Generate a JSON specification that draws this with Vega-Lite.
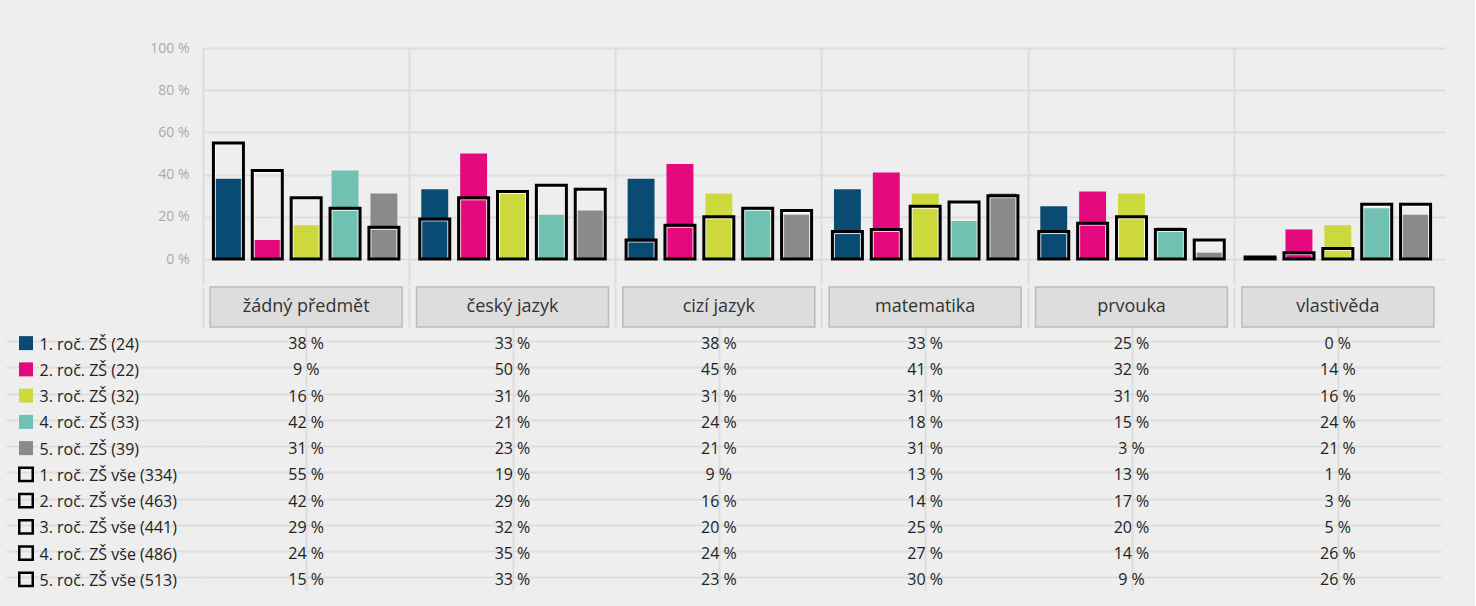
{
  "$schema": "https://vega.github.io/schema/vega-lite/v6.json",
  "background": "#eeeeee",
  "padding": {"left": 6, "top": 41, "right": 30, "bottom": 16},
  "spacing": 0,
  "columns": 2,
  "align": "each",
  "config": {
    "font": "Open Sans",
    "view": {"stroke": null},
    "locale": {"number": {"decimal": ",", "thousands": " ", "grouping": [3], "currency": ["", " Kč"], "percent": " %"}},
    "axis": {"domain": false, "title": null}
  },
  "datasets": {
    "d": [
      {"subject": "žádný předmět", "grade": "1. roč. ZŠ", "kind": "sample", "series": "1. roč. ZŠ (24)", "value": 0.38},
      {"subject": "žádný předmět", "grade": "2. roč. ZŠ", "kind": "sample", "series": "2. roč. ZŠ (22)", "value": 0.09},
      {"subject": "žádný předmět", "grade": "3. roč. ZŠ", "kind": "sample", "series": "3. roč. ZŠ (32)", "value": 0.16},
      {"subject": "žádný předmět", "grade": "4. roč. ZŠ", "kind": "sample", "series": "4. roč. ZŠ (33)", "value": 0.42},
      {"subject": "žádný předmět", "grade": "5. roč. ZŠ", "kind": "sample", "series": "5. roč. ZŠ (39)", "value": 0.31},
      {"subject": "žádný předmět", "grade": "1. roč. ZŠ", "kind": "all", "series": "1. roč. ZŠ vše (334)", "value": 0.55},
      {"subject": "žádný předmět", "grade": "2. roč. ZŠ", "kind": "all", "series": "2. roč. ZŠ vše (463)", "value": 0.42},
      {"subject": "žádný předmět", "grade": "3. roč. ZŠ", "kind": "all", "series": "3. roč. ZŠ vše (441)", "value": 0.29},
      {"subject": "žádný předmět", "grade": "4. roč. ZŠ", "kind": "all", "series": "4. roč. ZŠ vše (486)", "value": 0.24},
      {"subject": "žádný předmět", "grade": "5. roč. ZŠ", "kind": "all", "series": "5. roč. ZŠ vše (513)", "value": 0.15},

      {"subject": "český jazyk", "grade": "1. roč. ZŠ", "kind": "sample", "series": "1. roč. ZŠ (24)", "value": 0.33},
      {"subject": "český jazyk", "grade": "2. roč. ZŠ", "kind": "sample", "series": "2. roč. ZŠ (22)", "value": 0.50},
      {"subject": "český jazyk", "grade": "3. roč. ZŠ", "kind": "sample", "series": "3. roč. ZŠ (32)", "value": 0.31},
      {"subject": "český jazyk", "grade": "4. roč. ZŠ", "kind": "sample", "series": "4. roč. ZŠ (33)", "value": 0.21},
      {"subject": "český jazyk", "grade": "5. roč. ZŠ", "kind": "sample", "series": "5. roč. ZŠ (39)", "value": 0.23},
      {"subject": "český jazyk", "grade": "1. roč. ZŠ", "kind": "all", "series": "1. roč. ZŠ vše (334)", "value": 0.19},
      {"subject": "český jazyk", "grade": "2. roč. ZŠ", "kind": "all", "series": "2. roč. ZŠ vše (463)", "value": 0.29},
      {"subject": "český jazyk", "grade": "3. roč. ZŠ", "kind": "all", "series": "3. roč. ZŠ vše (441)", "value": 0.32},
      {"subject": "český jazyk", "grade": "4. roč. ZŠ", "kind": "all", "series": "4. roč. ZŠ vše (486)", "value": 0.35},
      {"subject": "český jazyk", "grade": "5. roč. ZŠ", "kind": "all", "series": "5. roč. ZŠ vše (513)", "value": 0.33},

      {"subject": "cizí jazyk", "grade": "1. roč. ZŠ", "kind": "sample", "series": "1. roč. ZŠ (24)", "value": 0.38},
      {"subject": "cizí jazyk", "grade": "2. roč. ZŠ", "kind": "sample", "series": "2. roč. ZŠ (22)", "value": 0.45},
      {"subject": "cizí jazyk", "grade": "3. roč. ZŠ", "kind": "sample", "series": "3. roč. ZŠ (32)", "value": 0.31},
      {"subject": "cizí jazyk", "grade": "4. roč. ZŠ", "kind": "sample", "series": "4. roč. ZŠ (33)", "value": 0.24},
      {"subject": "cizí jazyk", "grade": "5. roč. ZŠ", "kind": "sample", "series": "5. roč. ZŠ (39)", "value": 0.21},
      {"subject": "cizí jazyk", "grade": "1. roč. ZŠ", "kind": "all", "series": "1. roč. ZŠ vše (334)", "value": 0.09},
      {"subject": "cizí jazyk", "grade": "2. roč. ZŠ", "kind": "all", "series": "2. roč. ZŠ vše (463)", "value": 0.16},
      {"subject": "cizí jazyk", "grade": "3. roč. ZŠ", "kind": "all", "series": "3. roč. ZŠ vše (441)", "value": 0.20},
      {"subject": "cizí jazyk", "grade": "4. roč. ZŠ", "kind": "all", "series": "4. roč. ZŠ vše (486)", "value": 0.24},
      {"subject": "cizí jazyk", "grade": "5. roč. ZŠ", "kind": "all", "series": "5. roč. ZŠ vše (513)", "value": 0.23},

      {"subject": "matematika", "grade": "1. roč. ZŠ", "kind": "sample", "series": "1. roč. ZŠ (24)", "value": 0.33},
      {"subject": "matematika", "grade": "2. roč. ZŠ", "kind": "sample", "series": "2. roč. ZŠ (22)", "value": 0.41},
      {"subject": "matematika", "grade": "3. roč. ZŠ", "kind": "sample", "series": "3. roč. ZŠ (32)", "value": 0.31},
      {"subject": "matematika", "grade": "4. roč. ZŠ", "kind": "sample", "series": "4. roč. ZŠ (33)", "value": 0.18},
      {"subject": "matematika", "grade": "5. roč. ZŠ", "kind": "sample", "series": "5. roč. ZŠ (39)", "value": 0.31},
      {"subject": "matematika", "grade": "1. roč. ZŠ", "kind": "all", "series": "1. roč. ZŠ vše (334)", "value": 0.13},
      {"subject": "matematika", "grade": "2. roč. ZŠ", "kind": "all", "series": "2. roč. ZŠ vše (463)", "value": 0.14},
      {"subject": "matematika", "grade": "3. roč. ZŠ", "kind": "all", "series": "3. roč. ZŠ vše (441)", "value": 0.25},
      {"subject": "matematika", "grade": "4. roč. ZŠ", "kind": "all", "series": "4. roč. ZŠ vše (486)", "value": 0.27},
      {"subject": "matematika", "grade": "5. roč. ZŠ", "kind": "all", "series": "5. roč. ZŠ vše (513)", "value": 0.30},

      {"subject": "prvouka", "grade": "1. roč. ZŠ", "kind": "sample", "series": "1. roč. ZŠ (24)", "value": 0.25},
      {"subject": "prvouka", "grade": "2. roč. ZŠ", "kind": "sample", "series": "2. roč. ZŠ (22)", "value": 0.32},
      {"subject": "prvouka", "grade": "3. roč. ZŠ", "kind": "sample", "series": "3. roč. ZŠ (32)", "value": 0.31},
      {"subject": "prvouka", "grade": "4. roč. ZŠ", "kind": "sample", "series": "4. roč. ZŠ (33)", "value": 0.15},
      {"subject": "prvouka", "grade": "5. roč. ZŠ", "kind": "sample", "series": "5. roč. ZŠ (39)", "value": 0.03},
      {"subject": "prvouka", "grade": "1. roč. ZŠ", "kind": "all", "series": "1. roč. ZŠ vše (334)", "value": 0.13},
      {"subject": "prvouka", "grade": "2. roč. ZŠ", "kind": "all", "series": "2. roč. ZŠ vše (463)", "value": 0.17},
      {"subject": "prvouka", "grade": "3. roč. ZŠ", "kind": "all", "series": "3. roč. ZŠ vše (441)", "value": 0.20},
      {"subject": "prvouka", "grade": "4. roč. ZŠ", "kind": "all", "series": "4. roč. ZŠ vše (486)", "value": 0.14},
      {"subject": "prvouka", "grade": "5. roč. ZŠ", "kind": "all", "series": "5. roč. ZŠ vše (513)", "value": 0.09},

      {"subject": "vlastivěda", "grade": "1. roč. ZŠ", "kind": "sample", "series": "1. roč. ZŠ (24)", "value": 0.0},
      {"subject": "vlastivěda", "grade": "2. roč. ZŠ", "kind": "sample", "series": "2. roč. ZŠ (22)", "value": 0.14},
      {"subject": "vlastivěda", "grade": "3. roč. ZŠ", "kind": "sample", "series": "3. roč. ZŠ (32)", "value": 0.16},
      {"subject": "vlastivěda", "grade": "4. roč. ZŠ", "kind": "sample", "series": "4. roč. ZŠ (33)", "value": 0.24},
      {"subject": "vlastivěda", "grade": "5. roč. ZŠ", "kind": "sample", "series": "5. roč. ZŠ (39)", "value": 0.21},
      {"subject": "vlastivěda", "grade": "1. roč. ZŠ", "kind": "all", "series": "1. roč. ZŠ vše (334)", "value": 0.01},
      {"subject": "vlastivěda", "grade": "2. roč. ZŠ", "kind": "all", "series": "2. roč. ZŠ vše (463)", "value": 0.03},
      {"subject": "vlastivěda", "grade": "3. roč. ZŠ", "kind": "all", "series": "3. roč. ZŠ vše (441)", "value": 0.05},
      {"subject": "vlastivěda", "grade": "4. roč. ZŠ", "kind": "all", "series": "4. roč. ZŠ vše (486)", "value": 0.26},
      {"subject": "vlastivěda", "grade": "5. roč. ZŠ", "kind": "all", "series": "5. roč. ZŠ vše (513)", "value": 0.26}
    ]
  },
  "concat": [
    {
      "width": 32,
      "height": 1,
      "data": {"values": [{"p": 1}]},
      "mark": {"type": "point", "opacity": 0, "size": 0}
    },
    {
      "width": 1242,
      "height": 211,
      "data": {"name": "d"},
      "encoding": {
        "x": {
          "field": "subject", "type": "nominal",
          "sort": ["žádný předmět", "český jazyk", "cizí jazyk", "matematika", "prvouka", "vlastivěda"],
          "scale": {"paddingInner": 0, "paddingOuter": 0.0097, "align": 0},
          "axis": {"labels": false, "ticks": true, "tickSize": 26, "tickColor": "#dddddd", "tickWidth": 2, "grid": true, "gridColor": "#dddddd", "gridWidth": 2, "bandPosition": 0, "domain": false, "title": null}
        },
        "xOffset": {"field": "grade", "type": "nominal", "scale": {"paddingInner": 0.3077, "paddingOuter": 0.3077}},
        "y": {
          "field": "value", "type": "quantitative",
          "scale": {"domain": [0, 1], "nice": false},
          "axis": {"values": [0, 0.2, 0.4, 0.6, 0.8, 1], "format": ".0%", "ticks": false, "labelPadding": 14, "labelColor": "#aaaaaa", "labelFontSize": 14, "gridColor": "#dddddd", "gridWidth": 2, "title": null}
        }
      },
      "layer": [
        {
          "transform": [{"filter": "datum.kind === 'sample'"}],
          "mark": {"type": "bar"},
          "encoding": {
            "color": {"field": "grade", "type": "nominal", "scale": {"domain": ["1. roč. ZŠ", "2. roč. ZŠ", "3. roč. ZŠ", "4. roč. ZŠ", "5. roč. ZŠ"], "range": ["#0a4b73", "#e4097f", "#cdd83c", "#71c1b3", "#8a8a8a"]}, "legend": null}
          }
        },
        {
          "transform": [{"filter": "datum.kind === 'all'"}],
          "mark": {"type": "bar", "fillOpacity": 0, "stroke": "#ffffff", "strokeOpacity": 0.85, "strokeWidth": 1, "width": 26, "yOffset": 2, "y2Offset": -2}
        },
        {
          "transform": [{"filter": "datum.kind === 'all'"}],
          "mark": {"type": "bar", "fillOpacity": 0, "stroke": "#000000", "strokeWidth": 3, "width": 30}
        }
      ]
    },
    {
      "width": 32,
      "height": 1,
      "data": {"values": [{"p": 1}]},
      "mark": {"type": "point", "opacity": 0, "size": 0}
    },
    {
      "width": 1242,
      "height": 40,
      "data": {"name": "d"},
      "transform": [{"filter": "datum.kind === 'sample' && datum.grade === '1. roč. ZŠ'"}],
      "encoding": {
        "x": {
          "field": "subject", "type": "nominal",
          "sort": ["žádný předmět", "český jazyk", "cizí jazyk", "matematika", "prvouka", "vlastivěda"],
          "scale": {"paddingInner": 0, "paddingOuter": 0.0097, "align": 0},
          "axis": {"labels": false, "ticks": false, "grid": true, "gridColor": "#dddddd", "gridWidth": 2, "bandPosition": 0, "domain": false, "title": null}
        },
        "y": {
          "datum": "h", "type": "nominal",
          "scale": {"paddingInner": 0, "paddingOuter": 0},
          "axis": null
        }
      },
      "layer": [
        {"mark": {"type": "bar", "width": 192, "fill": "#dddddd", "stroke": "#bbbbbb", "strokeWidth": 1.5}},
        {"mark": {"type": "text", "fontSize": 18, "color": "#333333"}, "encoding": {"text": {"field": "subject"}}}
      ]
    },
    {
      "width": 32,
      "height": 262.5,
      "data": {"name": "d"},
      "transform": [{"filter": "datum.subject === 'žádný předmět'"}],
      "encoding": {
        "y": {
          "field": "series", "type": "nominal",
          "scale": {"domain": ["1. roč. ZŠ (24)", "2. roč. ZŠ (22)", "3. roč. ZŠ (32)", "4. roč. ZŠ (33)", "5. roč. ZŠ (39)", "1. roč. ZŠ vše (334)", "2. roč. ZŠ vše (463)", "3. roč. ZŠ vše (441)", "4. roč. ZŠ vše (486)", "5. roč. ZŠ vše (513)"], "paddingInner": 0, "paddingOuter": 0},
          "axis": {"labels": false, "ticks": false, "domain": false, "grid": true, "gridColor": "#dddddd", "gridWidth": 2, "bandPosition": 1, "title": null}
        }
      },
      "layer": [
        {
          "transform": [{"filter": "datum.kind === 'sample'"}],
          "mark": {"type": "square", "size": 196, "opacity": 1, "xOffset": 4, "yOffset": 2},
          "encoding": {"color": {"field": "grade", "type": "nominal", "legend": null}}
        },
        {
          "transform": [{"filter": "datum.kind === 'all'"}],
          "mark": {"type": "point", "shape": "square", "size": 182, "filled": false, "stroke": "#000000", "strokeWidth": 2.5, "opacity": 1, "xOffset": 4, "yOffset": 2}
        }
      ]
    },
    {
      "width": 1238,
      "height": 262.5,
      "data": {"name": "d"},
      "mark": {"type": "text", "fontSize": 16, "color": "#222222", "dy": 3},
      "encoding": {
        "x": {
          "field": "subject", "type": "nominal",
          "sort": ["žádný předmět", "český jazyk", "cizí jazyk", "matematika", "prvouka", "vlastivěda"],
          "scale": {"paddingInner": 0, "paddingOuter": 0},
          "axis": {"labels": false, "ticks": false, "grid": true, "gridColor": "#dddddd", "gridWidth": 2, "bandPosition": 0, "domain": false, "title": null}
        },
        "y": {
          "field": "series", "type": "nominal",
          "scale": {"domain": ["1. roč. ZŠ (24)", "2. roč. ZŠ (22)", "3. roč. ZŠ (32)", "4. roč. ZŠ (33)", "5. roč. ZŠ (39)", "1. roč. ZŠ vše (334)", "2. roč. ZŠ vše (463)", "3. roč. ZŠ vše (441)", "4. roč. ZŠ vše (486)", "5. roč. ZŠ vše (513)"], "paddingInner": 0, "paddingOuter": 0},
          "axis": {"bandPosition": 1, "ticks": true, "tickSize": 164, "tickColor": "#dddddd", "tickWidth": 2, "grid": true, "gridColor": "#dddddd", "gridWidth": 2, "labelAlign": "left", "labelPadding": 0, "labelOffset": 3, "labelFontSize": 16, "labelColor": "#222222", "domain": false, "title": null}
        },
        "text": {"field": "value", "type": "quantitative", "format": ".0%"}
      }
    }
  ]
}
